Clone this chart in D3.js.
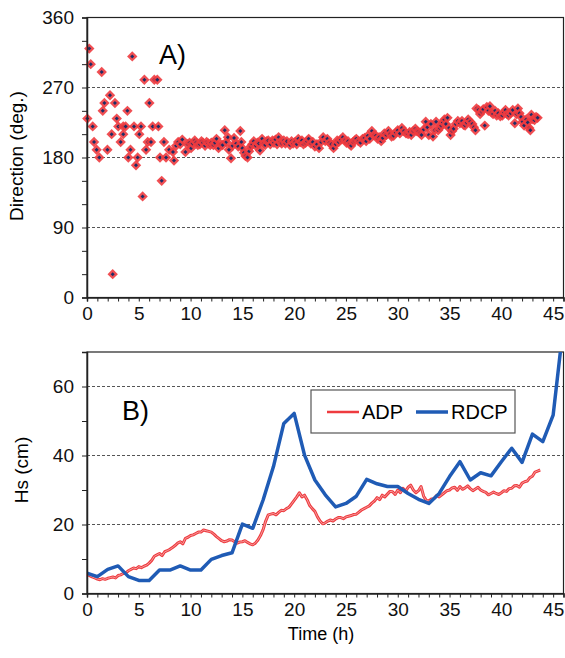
<!DOCTYPE html>
<html>
<head>
<meta charset="utf-8">
<script src="https://cdn.jsdelivr.net/npm/d3@7"></script>
<style>
  body { margin: 0; background: #fff; }
  svg { font-family: "Liberation Sans", Arial, sans-serif; }
  .axis path, .axis line { stroke: #222; }
  .axis text { font-size: 19px; fill: #111; }
</style>
</head>
<body>
<div id="canvas"></div>
<script>
// panel A: wave direction, [hour, degrees]
const dirPoints = [
  [0.03,230],[0.22,320],[0.36,300],[0.55,220],[0.68,200],[0.93,190],[1.19,180],[1.42,290],
  [1.52,240],[1.68,250],[1.97,190],[2.22,260],[2.38,210],[2.48,30],[2.7,250],[2.87,230],
  [3.02,220],[3.25,200],[3.5,210],[3.5,220],[3.73,220],[3.9,240],[3.99,180],[4.2,190],
  [4.37,310],[4.54,220],[4.73,170],[4.89,180],[5.05,210],[5.21,220],[5.37,130],[5.54,280],
  [5.7,190],[5.86,200],[6.02,250],[6.18,200],[6.34,220],[6.5,280],[6.79,280],[6.89,220],
  [7.05,180],[7.21,150],[7.43,200],[7.63,180],[7.93,190],[8.3,187],[8.4,176],[8.6,195],
  [8.8,200],[9.0,197],[9.2,203],[9.5,187],[9.7,197],[9.9,199],[10.05,192],[10.2,198],
  [10.4,202],[10.55,199],[10.7,196],[10.9,197],[11.05,201],[11.2,199],[11.4,195],[11.55,200],
  [11.7,198],[11.9,196],[12.0,199],[12.2,196],[12.35,199],[12.5,204],[12.7,192],[12.9,197],
  [13.1,196],[13.3,215],[13.45,200],[13.6,206],[13.7,190],[13.9,179],[14.05,195],[14.2,205],
  [14.4,198],[14.6,194],[14.8,214],[14.9,200],[15.0,192],[15.15,186],[15.3,182],[15.5,180],
  [15.65,188],[15.8,194],[15.95,197],[16.1,201],[16.3,195],[16.45,199],[16.6,198],[16.7,189],
  [16.9,204],[17.05,198],[17.2,196],[17.35,201],[17.5,202],[17.7,197],[17.9,202],[18.05,199],
  [18.2,203],[18.35,197],[18.5,206],[18.65,200],[18.8,198],[19.0,202],[19.15,198],[19.3,201],
  [19.6,196],[19.75,201],[19.9,198],[20.1,200],[20.25,197],[20.4,204],[20.6,200],[20.75,202],
  [20.9,197],[21.1,199],[21.25,201],[21.4,204],[21.6,198],[21.8,200],[22.0,194],[22.2,197],
  [22.4,192],[22.6,200],[22.8,206],[23.0,201],[23.2,204],[23.4,199],[23.6,197],[23.8,192],
  [24.0,197],[24.15,202],[24.3,200],[24.5,203],[24.7,206],[24.9,202],[25.05,199],[25.2,201],
  [25.35,197],[25.5,195],[25.7,200],[25.85,202],[26.0,204],[26.2,201],[26.4,199],[26.6,204],
  [26.8,205],[26.95,201],[27.1,208],[27.3,204],[27.5,214],[27.7,209],[27.9,208],[28.05,204],
  [28.2,206],[28.4,201],[28.55,205],[28.7,211],[28.9,209],[29.1,214],[29.25,210],[29.4,207],
  [29.6,208],[29.8,212],[30.0,215],[30.2,211],[30.4,218],[30.6,214],[30.8,211],[31.0,210],
  [31.15,213],[31.3,209],[31.5,214],[31.7,217],[31.85,214],[32.0,213],[32.15,211],[32.3,209],
  [32.5,216],[32.7,226],[32.85,219],[33.0,209],[33.2,223],[33.4,207],[33.55,215],[33.7,226],
  [33.9,215],[34.05,218],[34.2,221],[34.35,225],[34.5,229],[34.65,223],[34.8,231],[34.95,218],
  [35.1,209],[35.25,214],[35.4,217],[35.6,223],[35.8,227],[36.0,224],[36.2,227],[36.35,222],
  [36.5,221],[36.65,225],[36.8,229],[37.0,226],[37.2,223],[37.35,219],[37.5,215],[37.6,243],
  [37.8,241],[37.95,236],[38.1,239],[38.25,242],[38.4,221],[38.6,245],[38.75,240],[38.9,246],
  [39.05,238],[39.2,236],[39.4,240],[39.55,234],[39.7,237],[39.9,233],[40.1,234],[40.25,238],
  [40.4,241],[40.55,236],[40.7,234],[40.9,237],[41.1,241],[41.3,224],[41.45,236],[41.6,243],
  [41.75,237],[41.9,232],[42.05,226],[42.2,221],[42.4,229],[42.55,225],[42.7,218],[42.8,215],
  [42.9,235],[43.05,229],[43.2,228],[43.35,232],[43.5,231]
];

// panel B: significant wave height (cm)
const adpStart = 0;
const adpStep = 0.25; // hours between ADP samples
const adpHs = [
  5.6, 5.2, 4.8, 4.5, 4.2, 4.0, 4.3, 4.1,
  4.4, 4.6, 4.8, 4.5, 5.2, 5.4, 5.8, 6.0,
  6.6, 7.0, 7.4, 7.2, 7.8, 7.5, 7.9, 8.2,
  8.8, 9.6, 10.8, 11.2, 11.6, 11.0, 12.1, 12.4,
  12.8, 13.3, 13.9, 14.6, 15.0, 14.4, 16.0, 16.3,
  16.8, 17.0, 17.4, 17.8, 17.8, 18.4, 18.2, 18.0,
  17.8, 17.2, 16.5, 15.9, 15.3, 15.0, 15.2, 15.6,
  15.5, 15.0, 14.6, 14.9, 15.0, 15.3, 14.8, 14.4,
  14.1, 14.6, 15.5, 16.8, 18.5, 21.0, 22.8, 23.0,
  23.2, 22.8, 23.5, 24.1, 24.0, 24.6, 25.0, 26.0,
  27.0, 28.0, 29.2, 28.0, 28.5, 27.2, 25.5, 24.6,
  23.8, 22.2, 21.0, 20.2, 20.5, 21.0, 21.3, 21.0,
  21.6, 22.0, 22.0, 21.7, 22.2, 22.4, 22.6, 22.9,
  23.0, 23.6, 24.2, 24.6, 25.0, 25.4, 26.2, 26.8,
  27.8, 27.2, 28.5, 28.0, 28.8, 29.6, 29.5, 28.7,
  30.0, 29.2, 30.5, 29.6, 30.8, 31.4, 30.0, 29.2,
  29.8, 31.0, 28.2, 27.0, 26.8, 27.4, 27.5, 28.4,
  28.0, 28.6, 29.2, 29.8, 30.0, 30.6, 30.8, 29.9,
  31.0, 30.2, 30.6, 31.2, 30.4, 29.8, 30.3, 30.8,
  30.0, 29.6, 29.3, 28.6, 29.0, 29.4, 29.0, 28.7,
  29.2, 29.8, 29.6, 30.4, 30.5, 31.2, 31.3, 30.8,
  32.0, 32.4, 32.6, 33.6, 34.0, 35.2, 35.5, 35.8
];
const rdcpHours = [0,1,2,3,4,5,6,7,8,9,10,11,12,13,14,15,16,17,18,19,20,21,22,23,
  24,25,26,27,28,29,30,31,32,33,34,35,36,37,38,39,40,41,42,43,44,45,46];
const rdcpHs = [5.9,4.9,7.0,8.0,4.9,3.8,3.8,6.8,6.8,8.0,6.8,6.8,9.9,11.0,11.8,20.1,18.9,27.1,36.8,49.3,52.2,40.1,32.9,28.6,
  25.1,26.1,28.2,33.1,31.8,31.0,31.0,29.0,27.3,26.1,29.0,33.9,38.2,32.9,35.0,34.1,38.2,42.1,38.0,46.2,44.0,51.7,78];

const timeTicks = d3.range(0, 47, 1);
const timeLabels = [0,5,10,15,20,25,30,35,40,45];
const dirTicks = d3.range(0, 361, 30);
const dirLabels = [0,90,180,270,360];
const hsTicks = d3.range(0, 71, 10);
const hsLabels = [0,20,40,60];

const W = 565, H = 658;
const left = 87, right = 563.5;

const svg = d3.select("#canvas").append("svg")
  .attr("width", W).attr("height", H);

const x = d3.scaleLinear().domain([0, 46]).range([left, right]);
const yDir = d3.scaleLinear().domain([0, 360]).range([297.5, 17.5]);
const yHs = d3.scaleLinear().domain([0, 70]).range([593.5, 352]);

function grid(y, vals) {
  svg.append("g").selectAll("line").data(vals).join("line")
    .attr("x1", left).attr("x2", right)
    .attr("y1", d => y(d)).attr("y2", d => y(d))
    .attr("stroke", "#555").attr("stroke-width", 1)
    .attr("stroke-dasharray", "3,2");
}

function frame(y) {
  svg.append("rect")
    .attr("x", left).attr("y", y.range()[1])
    .attr("width", right - left).attr("height", y.range()[0] - y.range()[1])
    .attr("fill", "none").attr("stroke", "#222").attr("stroke-width", 1.2);
}

function axes(y, ticks, labels) {
  svg.append("g").attr("class", "axis")
    .attr("transform", "translate(0," + y.range()[0] + ")")
    .call(d3.axisBottom(x).tickValues(timeTicks).tickSize(4).tickPadding(5)
      .tickFormat(d => labels.x.includes(d) ? d : ""))
    .call(g => g.select(".domain").attr("stroke-width", 1.5));
  svg.append("g").attr("class", "axis")
    .attr("transform", "translate(" + left + ",0)")
    .call(d3.axisLeft(y).tickValues(ticks).tickSize(5).tickPadding(8)
      .tickFormat(d => labels.y.includes(d) ? d : ""))
    .call(g => g.select(".domain").attr("stroke-width", 1.5));
}

// ---- panel A
grid(yDir, [90, 180, 270]);
frame(yDir);

const diamond = r => "M0," + (-r) + "L" + r + ",0L0," + r + "L" + (-r) + ",0Z";
const pts = svg.append("g").selectAll("g").data(dirPoints).join("g")
  .attr("transform", d => "translate(" + x(d[0]) + "," + yDir(d[1]) + ")");
pts.append("path").attr("d", diamond(5.2)).attr("fill", "#ee3b3f").attr("opacity", 0.9);
pts.append("path").attr("d", diamond(2)).attr("fill", "#1c2d66");

axes(yDir, dirTicks, { x: timeLabels, y: dirLabels });

svg.append("text").attr("x", 159).attr("y", 64)
  .attr("font-size", 27).text("A)");

svg.append("text")
  .attr("transform", "translate(23,156) rotate(-90)")
  .attr("text-anchor", "middle").attr("font-size", 19)
  .text("Direction (deg.)");

// ---- panel B
grid(yHs, [20, 40, 60]);
frame(yHs);

const clip = svg.append("clipPath").attr("id", "clipB").append("rect")
  .attr("x", left).attr("y", 352).attr("width", right - left).attr("height", 593.5 - 352);

const adpLine = d3.line()
  .x((d, i) => x(adpStart + i * adpStep))
  .y(d => yHs(d));

svg.append("path").datum(adpHs)
  .attr("d", adpLine).attr("fill", "none")
  .attr("stroke", "#ee3b3f").attr("stroke-width", 3).attr("stroke-linejoin", "round");
svg.append("path").datum(adpHs)
  .attr("d", adpLine).attr("fill", "none")
  .attr("stroke", "#f8b4b4").attr("stroke-width", 0.8);

const rdcpLine = d3.line()
  .x((d, i) => x(rdcpHours[i]))
  .y(d => yHs(d));

svg.append("path").datum(rdcpHs)
  .attr("clip-path", "url(#clipB)")
  .attr("d", rdcpLine).attr("fill", "none")
  .attr("stroke", "#1f5bb5").attr("stroke-width", 3.5).attr("stroke-linejoin", "round");

axes(yHs, hsTicks, { x: timeLabels, y: hsLabels });

svg.append("text").attr("x", 122).attr("y", 420)
  .attr("font-size", 27).text("B)");

svg.append("text")
  .attr("transform", "translate(28,470) rotate(-90)")
  .attr("text-anchor", "middle").attr("font-size", 19)
  .text("Hs (cm)");

svg.append("text")
  .attr("x", 321).attr("y", 640)
  .attr("text-anchor", "middle").attr("font-size", 18)
  .text("Time (h)");

// legend
const lg = svg.append("g");
lg.append("rect").attr("x", 311).attr("y", 390).attr("width", 204).attr("height", 43)
  .attr("fill", "#fff").attr("stroke", "#555").attr("stroke-width", 1.2);
const legendItems = [
  { name: "ADP", color: "#ee3b3f", x: 327, w: 2.5 },
  { name: "RDCP", color: "#1f5bb5", x: 416, w: 3.5 }
];
legendItems.forEach(d => {
  lg.append("line").attr("x1", d.x).attr("x2", d.x + 32).attr("y1", 412).attr("y2", 412)
    .attr("stroke", d.color).attr("stroke-width", d.w);
  lg.append("text").attr("x", d.x + 35).attr("y", 419).attr("font-size", 20).text(d.name);
});
</script>
</body>
</html>
